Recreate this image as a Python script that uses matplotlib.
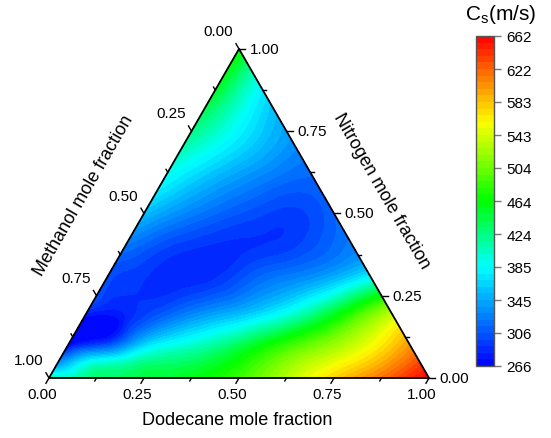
import numpy as np
import matplotlib
matplotlib.use("Agg")
import matplotlib.pyplot as plt
import matplotlib.tri as mtri
from matplotlib.colors import LinearSegmentedColormap

plt.rcParams['font.family'] = ['Liberation Sans', 'DejaVu Sans']

# sound speed (m/s), one row per nitrogen mole fraction
# dodecane fractions for each row and the speed at those points
nitrogen_rows = [0.0, 0.05, 0.1, 0.2, 0.3, 0.4, 0.5, 0.6, 0.7, 0.8, 0.9, 1.0]
dodecane_rows = [
    [0.0, 0.1, 0.2, 0.3, 0.4, 0.5, 0.6, 0.7, 0.8, 0.9, 1.0],
    [0.0, 0.1, 0.2, 0.3],
    [0.0, 0.1, 0.2, 0.3, 0.4, 0.5, 0.6, 0.7, 0.8, 0.9],
    [0.0, 0.1, 0.2, 0.3, 0.4, 0.5, 0.6, 0.7, 0.8],
    [0.0, 0.1, 0.2, 0.3, 0.4, 0.5, 0.6, 0.7],
    [0.0, 0.1, 0.2, 0.3, 0.4, 0.5, 0.6],
    [0.0, 0.1, 0.2, 0.3, 0.4, 0.5],
    [0.0, 0.1, 0.2, 0.3, 0.4],
    [0.0, 0.1, 0.2, 0.3],
    [0.0, 0.1, 0.2],
    [0.0, 0.1],
    [0.0],
]
speed_rows = [
    [415, 422, 435, 447, 462, 485, 520, 558, 592, 625, 662],
    [330, 390, 412, 428],
    [267, 302, 365, 395, 420, 455, 490, 520, 555, 600],
    [284, 283, 305, 330, 350, 378, 420, 475, 530],
    [300, 290, 285, 292, 315, 330, 352, 390],
    [320, 300, 290, 288, 292, 305, 325],
    [355, 330, 312, 300, 295, 312],
    [385, 357, 335, 318, 312],
    [410, 382, 355, 330],
    [435, 392, 352],
    [455, 390],
    [465],
]

cbar_ticks = [266, 306, 345, 385, 424, 464, 504, 543, 583, 622, 662]
major = [0.0, 0.25, 0.5, 0.75, 1.0]
minor = [0.125, 0.375, 0.625, 0.875]
vmin, vmax = 266, 662

h = np.sqrt(3) / 2

d_all, n_all, v_all = [], [], []
for n, ds, vs in zip(nitrogen_rows, dodecane_rows, speed_rows):
    for d, v in zip(ds, vs):
        d_all.append(d)
        n_all.append(n)
        v_all.append(v)
d_all = np.array(d_all)
n_all = np.array(n_all)
v_all = np.array(v_all, dtype=float)

# ternary -> cartesian (BL=methanol, BR=dodecane, top=nitrogen)
x = d_all + n_all / 2
y = n_all * h

tri = mtri.Triangulation(x, y)
interp = mtri.CubicTriInterpolator(tri, v_all, kind='min_E')
refiner = mtri.UniformTriRefiner(tri)
tri_f, v_f = refiner.refine_field(v_all, triinterpolator=interp, subdiv=4)

cmap = LinearSegmentedColormap.from_list('rb', [
    (0.0, (0, 0, 1)),
    (0.30, (0, 1, 1)),
    (0.50, (0, 1, 0)),
    (0.74, (1, 1, 0)),
    (1.0, (1, 0, 0)),
])

W, H = 551, 439
fig = plt.figure(figsize=(W / 100, H / 100), dpi=100)
s = 380.0
ax = fig.add_axes([0, 0, 1, 1])
ax.set_xlim(-49 / s, (W - 49) / s)
ax.set_ylim(-60 / s, (H - 60) / s)
ax.axis('off')

levels = np.linspace(vmin, vmax, 51)
cf = ax.tricontourf(tri_f, np.clip(v_f, vmin, vmax), levels=levels, cmap=cmap,
                    vmin=vmin, vmax=vmax)

ax.plot([0, 1, 0.5, 0], [0, 0, h, 0], color='black', lw=1.3, zorder=5)

# ticks
def draw_ticks(vals, L):
    for t in vals:
        # bottom: dodecane
        bx, by = t, 0.0
        ax.plot([bx, bx - 0.5 * L], [by, by - h * L], color='black', lw=1, zorder=5)
        # right: nitrogen
        rx, ry = 1 - t / 2, t * h
        ax.plot([rx, rx + L], [ry, ry], color='black', lw=1, zorder=5)
        # left: methanol
        nn = 1 - t
        lx, ly = nn / 2, nn * h
        ax.plot([lx, lx - 0.5 * L], [ly, ly + h * L], color='black', lw=1, zorder=5)

draw_ticks(major, 0.016)
draw_ticks(minor, 0.009)

fs = 11
for t in major:
    lab = '%.2f' % t
    ax.text(t - 0.018, -0.043, lab, ha='center', va='center', fontsize=fs)
    ax.text(1 - t / 2 + 0.028, t * h, lab, ha='left', va='center', fontsize=fs)
    nn = 1 - t
    ax.text(nn / 2 - 0.054, nn * h + 0.047, lab, ha='center', va='center', fontsize=fs)

ax.text(0.496, -0.11, 'Dodecane mole fraction', ha='center', va='center', fontsize=13)
ax.text(0.092, 0.482, 'Methanol mole fraction', ha='center', va='center',
        fontsize=13, rotation=60)
ax.text(0.876, 0.495, 'Nitrogen mole fraction', ha='center', va='center',
        fontsize=13, rotation=-60)

# colorbar
cax = fig.add_axes([476 / W, (H - 367) / H, 18 / W, 330 / H])
cb = fig.colorbar(cf, cax=cax, ticks=cbar_ticks)
cb.ax.set_yticklabels([str(t) for t in cbar_ticks])
cb.ax.tick_params(length=5, width=1, color='#777777', labelsize=11, pad=4)
cb.outline.set_edgecolor('#555555')
cb.outline.set_linewidth(1)
fig.text(501 / W, 1 - 15 / H, 'C$_\\mathregular{s}$(m/s)', ha='center', va='center',
         fontsize=15)

fig.savefig('out.png', dpi=100)
